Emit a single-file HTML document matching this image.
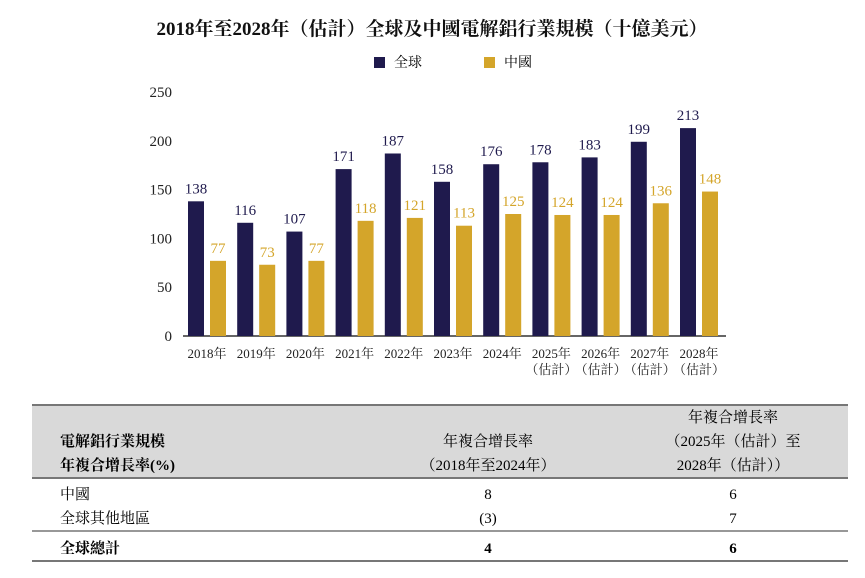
<!DOCTYPE html>
<html><head><meta charset="utf-8">
<style>
body{margin:0;width:865px;height:573px;background:#fff;overflow:hidden;font-family:"Liberation Serif","Noto Serif CJK SC",serif;color:#222}
svg text{font-family:"Liberation Serif","Noto Serif CJK SC",serif}
</style></head><body>
<svg width="865" height="573">
<text x="432" y="35" text-anchor="middle" font-size="19" font-weight="bold" fill="#111">2018年至2028年（估計）全球及中國電解鋁行業規模（十億美元）</text>
<g>
<rect x="374" y="57" width="11" height="11" fill="#1f1a4d"/>
<text x="394" y="67" font-size="14">全球</text>
<rect x="484" y="57" width="11" height="11" fill="#d4a52a"/>
<text x="504" y="67" font-size="14">中國</text>
</g>
<g id="plot"></g>
<g>
<rect x="32" y="404" width="816" height="74" fill="#d9d9d9"/>
<line x1="32" y1="405" x2="848" y2="405" stroke="#777" stroke-width="2"/>
<line x1="32" y1="478" x2="848" y2="478" stroke="#777" stroke-width="2"/>
<line x1="32" y1="531" x2="848" y2="531" stroke="#777" stroke-width="1.5"/>
<line x1="32" y1="561" x2="848" y2="561" stroke="#777" stroke-width="2"/>
<text x="60" y="446" font-size="15" font-weight="bold" font-family="Liberation Sans, Noto Sans CJK SC, sans-serif">電解鋁行業規模</text>
<text x="60" y="470" font-size="15" font-weight="bold" font-family="Liberation Sans, Noto Sans CJK SC, sans-serif">年複合增長率(%)</text>
<text x="488" y="446" font-size="15" text-anchor="middle">年複合增長率</text>
<text x="488" y="470" font-size="15" text-anchor="middle">（2018年至2024年）</text>
<text x="733" y="422" font-size="15" text-anchor="middle">年複合增長率</text>
<text x="733" y="446" font-size="15" text-anchor="middle">（2025年（估計）至</text>
<text x="733" y="470" font-size="15" text-anchor="middle">2028年（估計））</text>
<text x="60" y="499" font-size="15">中國</text>
<text x="488" y="499" font-size="15" text-anchor="middle">8</text>
<text x="733" y="499" font-size="15" text-anchor="middle">6</text>
<text x="60" y="523" font-size="15">全球其他地區</text>
<text x="488" y="523" font-size="15" text-anchor="middle">(3)</text>
<text x="733" y="523" font-size="15" text-anchor="middle">7</text>
<text x="60" y="553" font-size="15" font-weight="bold" font-family="Liberation Sans, Noto Sans CJK SC, sans-serif">全球總計</text>
<text x="488" y="553" font-size="15" font-weight="bold" text-anchor="middle">4</text>
<text x="733" y="553" font-size="15" font-weight="bold" text-anchor="middle">6</text>
</g>
</svg>
<script>
const years=["2018年","2019年","2020年","2021年","2022年","2023年","2024年","2025年","2026年","2027年","2028年"];
const estimated=[false,false,false,false,false,false,false,true,true,true,true];
const globalVals=[138,116,107,171,187,158,176,178,183,199,213];
const chinaVals=[77,73,77,118,121,113,125,124,124,136,148];
const yTicks=[0,50,100,150,200,250];
const NS="http://www.w3.org/2000/svg";
const g=document.getElementById('plot');
const y0=336,pxPer=244/250;
const yS=v=>y0-v*pxPer;
const xS=i=>188+i*49.2;
function mk(t,a,txt){const e=document.createElementNS(NS,t);for(const k in a)e.setAttribute(k,a[k]);if(txt!==undefined)e.textContent=txt;g.appendChild(e);return e;}
yTicks.forEach(v=>{const e=mk('text',{x:172,y:yS(v)+5,'text-anchor':'end','font-size':15,fill:'#222'},v);

});
const ax=mk('line',{x1:183,y1:y0,x2:726,y2:y0,stroke:'#333','stroke-width':1.5});


years.forEach((yr,i)=>{
 const x=xS(i);
 const b1=mk('rect',{x:x,y:yS(globalVals[i]),width:16,height:globalVals[i]*pxPer,fill:'#1f1a4d'});
 
 
 const b2=mk('rect',{x:x+22,y:yS(chinaVals[i]),width:16,height:chinaVals[i]*pxPer,fill:'#d4a52a'});
 
 
 const l1=mk('text',{x:x+8,y:yS(globalVals[i])-8,'text-anchor':'middle','font-size':15,fill:'#1f1a4d'},globalVals[i]);
 
 
 const l2=mk('text',{x:x+30,y:yS(chinaVals[i])-8,'text-anchor':'middle','font-size':15,fill:'#d4a52a'},chinaVals[i]);
 
 
 const t=mk('text',{x:x+19,y:358,'text-anchor':'middle','font-size':13,fill:'#222'},yr);
 
 
 if(estimated[i]){const t2=mk('text',{x:x+19,y:374,'text-anchor':'middle','font-size':13,fill:'#222'},'（估計）');
 
 }
});
</script>
</body></html>
